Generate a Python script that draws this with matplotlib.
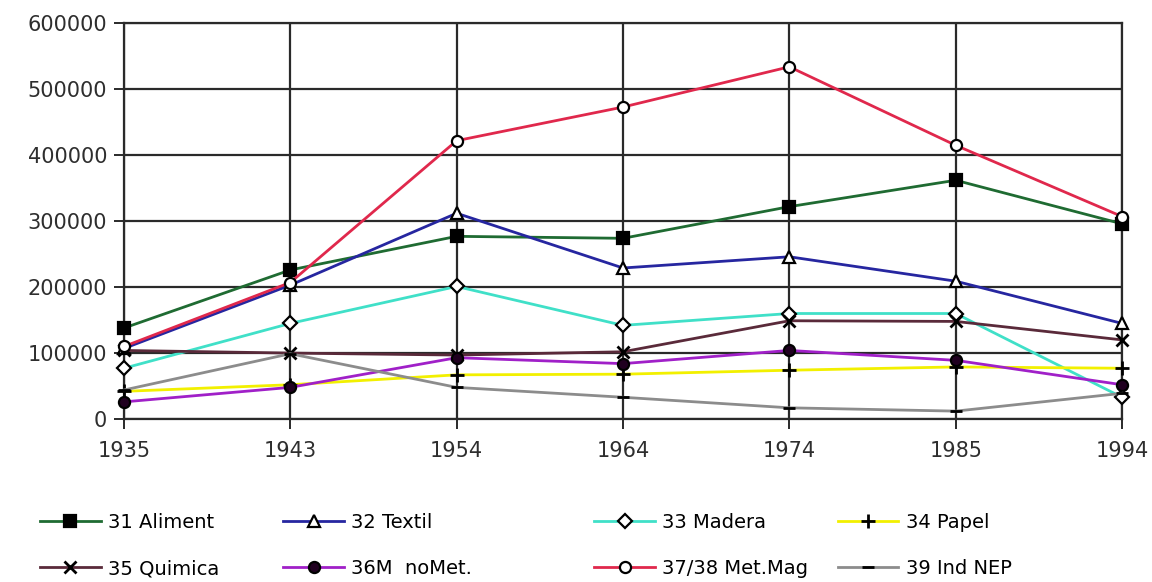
import numpy as np
import matplotlib
matplotlib.use('Agg')
from matplotlib import pyplot as plt

years = ['1935', '1943', '1954', '1964', '1974', '1985', '1994']

aliment = [138000, 226000, 277000, 274000, 322000, 362000, 296000]
textil = [107000, 203000, 312000, 229000, 246000, 209000, 145000]
madera = [77000, 145000, 201000, 142000, 160000, 160000, 33000]
papel = [42000, 52000, 67000, 68000, 74000, 79000, 77000]
quimica = [104000, 100000, 97000, 102000, 149000, 148000, 120000]
nomet = [26000, 48000, 93000, 84000, 104000, 89000, 52000]
metmag = [110000, 207000, 422000, 473000, 534000, 415000, 307000]
indnep = [44000, 99000, 48000, 33000, 17000, 12000, 39000]

labels = ['31 Aliment', '32 Textil', '33 Madera', '34 Papel',
          '35 Quimica', '36M  noMet.', '37/38 Met.Mag', '39 Ind NEP']

plt.rcParams['font.family'] = ['DejaVu Sans']

fig = plt.figure(figsize=(11.52, 5.82), dpi=100)
ax = fig.add_axes([0.1076, 0.280, 0.8664, 0.680])
x = np.arange(len(years))

# (values, line colour, marker, marker face, marker size)
series = [
    (aliment, '#1f6b32', 's', 'black', 8),
    (textil, '#2626a0', '^', 'white', 9),
    (madera, '#40e0c8', 'D', 'white', 7),
    (papel, '#f2f000', '+', 'black', 10),
    (quimica, '#5a2a3a', 'x', 'black', 8),
    (nomet, '#a020c8', 'o', '#200020', 8),
    (metmag, '#e0284c', 'o', 'white', 8),
    (indnep, '#8c8c8c', '_', 'black', 8),
]

handles = []
for (vals, col, mk, mf, ms), lab in zip(series, labels):
    h, = ax.plot(x, vals, color=col, lw=2, marker=mk, markersize=ms,
                 markerfacecolor=mf, markeredgecolor='black',
                 markeredgewidth=2 if mk in '+x_' else 1.6, label=lab,
                 clip_on=False, zorder=3)
    handles.append(h)

ax.set_xlim(0, 6)
ax.set_ylim(0, 600000)
ax.set_xticks(x)
ax.set_xticklabels(years)
ax.set_yticks(np.arange(0, 600001, 100000))
ax.set_yticklabels([str(v) for v in range(0, 600001, 100000)])
ax.grid(True, color='#2a2a2a', lw=1.6)
ax.set_axisbelow(True)
for s in ax.spines.values():
    s.set_color('#2a2a2a')
    s.set_linewidth(1.6)
ax.tick_params(axis='both', colors='#2a2a2a', labelcolor='#2e2e2e',
               labelsize=15, length=7, width=1.4)
ax.tick_params(axis='x', pad=9)
ax.tick_params(axis='y', pad=5)

# legend: four columns of two entries, placed like the original
col_x = [0.035, 0.246, 0.516, 0.727]
for c, xpos in enumerate(col_x):
    leg = fig.legend([handles[c], handles[c + 4]], [labels[c], labels[c + 4]],
                     loc='upper left', bbox_to_anchor=(xpos, 1 - 513 / 582),
                     borderaxespad=0, borderpad=0, frameon=False,
                     fontsize=14, handlelength=3.1, handletextpad=0.4,
                     labelspacing=1.4)

fig.savefig('out.png', dpi=100, facecolor='white')
